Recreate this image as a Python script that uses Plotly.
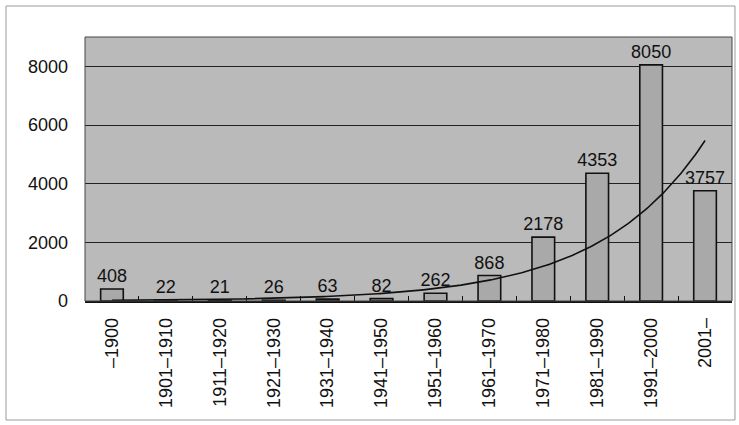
import numpy as np
import plotly.graph_objects as go

# Counts per period
periods = ["-1900", "1901-1910", "1911-1920", "1921-1930", "1931-1940", "1941-1950",
           "1951-1960", "1961-1970", "1971-1980", "1981-1990", "1991-2000", "2001-"]
counts = [408, 22, 21, 26, 63, 82, 262, 868, 2178, 4353, 8050, 3757]
y_ticks = [0, 2000, 4000, 6000, 8000]

pos = np.arange(len(periods))

# Exponential trendline fitted on log(count) against period number 1..n
b, ln_a = np.polyfit(pos + 1, np.log(counts), 1)
xs = np.linspace(pos[0], pos[-1], 300)
trend = np.exp(ln_a) * np.exp(b * (xs + 1))

FONT = "Liberation Sans, Arial, sans-serif"

fig = go.Figure()
fig.add_trace(go.Bar(
    x=pos, y=counts,
    width=0.42,
    marker=dict(color="#a9a9a9", line=dict(color="#111111", width=1.6)),
    text=[str(v) for v in counts],
    textposition="outside",
    constraintext="none",
    textfont=dict(size=18, color="#111111", family=FONT),
    cliponaxis=False,
    showlegend=False,
))
fig.add_trace(go.Scatter(
    x=xs, y=trend, mode="lines",
    line=dict(color="#111111", width=1.6),
    showlegend=False, hoverinfo="skip",
))

fig.update_layout(
    width=739, height=425,
    margin=dict(l=85, r=7, t=37, b=124),
    paper_bgcolor="white",
    plot_bgcolor="#bababa",
    font=dict(family=FONT, size=18, color="#111111"),
    shapes=[
        # outer chart frame
        dict(type="rect", xref="paper", yref="paper",
             x0=-0.1221, x1=1.0046, y0=-0.4508, y1=1.1174,
             line=dict(color="#9a9a9a", width=1), layer="below"),
        # plot area border
        dict(type="rect", xref="paper", yref="paper",
             x0=0, x1=1, y0=0, y1=1,
             line=dict(color="#444444", width=1), layer="above"),
    ],
)
fig.update_xaxes(
    range=[-0.5, len(periods) - 0.5],
    tickvals=pos, ticktext=[p.replace("-", "–") for p in periods],
    tickangle=-90, ticks="", showgrid=False, zeroline=False,
    showline=True, linecolor="#111111", linewidth=1.6,
    tickfont=dict(size=18, family=FONT), ticklabelstandoff=8,
    minor=dict(tickvals=list(pos[1:] - 0.5), ticks="inside", ticklen=5,
               tickcolor="#111111", showgrid=False),
)
fig.update_yaxes(
    range=[0, 9000], tickvals=y_ticks,
    showgrid=True, gridcolor="#222222", gridwidth=1,
    zeroline=False, showline=False, ticks="",
    tickfont=dict(size=18, family=FONT), ticklabelstandoff=16,
)

fig.write_html("out.html")
